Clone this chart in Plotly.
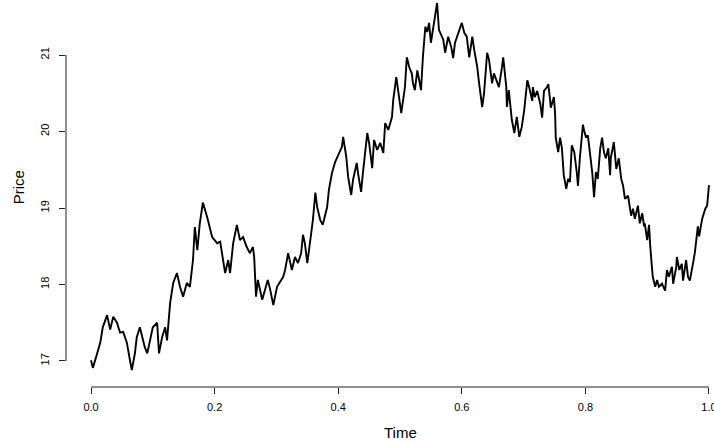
import plotly.graph_objects as go

time = [
    0.000, 0.003, 0.010, 0.015, 0.019, 0.026, 0.031, 0.036, 0.042, 0.047,
    0.052, 0.058, 0.063, 0.066, 0.071, 0.074, 0.079, 0.083, 0.087, 0.091,
    0.096, 0.100, 0.107, 0.110, 0.115, 0.120, 0.123, 0.125, 0.128, 0.133,
    0.139, 0.144, 0.149, 0.155, 0.160, 0.165, 0.168, 0.172, 0.176, 0.181,
    0.188, 0.196, 0.204, 0.209, 0.217, 0.222, 0.225,
    0.230, 0.236, 0.241, 0.246, 0.252, 0.257, 0.262, 0.264, 0.267, 0.270,
    0.277, 0.282, 0.286, 0.290, 0.295, 0.301, 0.306, 0.311, 0.314, 0.319,
    0.325, 0.330, 0.335, 0.340, 0.343, 0.346, 0.350, 0.354, 0.359, 0.363,
    0.366, 0.371, 0.375, 0.382, 0.385, 0.390, 0.395, 0.400, 0.406, 0.408,
    0.413, 0.416, 0.421, 0.424, 0.430, 0.432, 0.437, 0.440, 0.447, 0.450,
    0.455, 0.458, 0.463, 0.468,
    0.473, 0.476, 0.481, 0.487, 0.489, 0.494, 0.497, 0.502, 0.505, 0.508,
    0.511, 0.515, 0.519, 0.521, 0.524, 0.528, 0.531, 0.534, 0.537, 0.541,
    0.544, 0.547, 0.550, 0.553, 0.558, 0.560, 0.563, 0.570, 0.573, 0.578,
    0.583, 0.586, 0.589, 0.594, 0.600, 0.604, 0.608, 0.612, 0.617, 0.620,
    0.625, 0.628, 0.633, 0.636, 0.641, 0.644, 0.649, 0.652, 0.657, 0.660,
    0.665, 0.667, 0.672, 0.673, 0.676, 0.681, 0.685, 0.689, 0.693, 0.697,
    0.701, 0.706, 0.709,
    0.714, 0.715, 0.718, 0.722, 0.727, 0.730, 0.733, 0.738, 0.740, 0.743,
    0.744, 0.749, 0.751, 0.752, 0.756, 0.759, 0.762, 0.765, 0.769, 0.772,
    0.775, 0.778, 0.782, 0.786, 0.788, 0.791, 0.796, 0.798, 0.801, 0.804,
    0.807, 0.811, 0.814, 0.817, 0.820, 0.824, 0.827, 0.830, 0.833, 0.837,
    0.840, 0.841, 0.846, 0.850, 0.854, 0.858, 0.861, 0.864, 0.869, 0.871,
    0.874, 0.877, 0.880, 0.885, 0.888, 0.892, 0.895, 0.896, 0.900, 0.903,
    0.905, 0.909, 0.913, 0.916, 0.919, 0.924, 0.929, 0.932, 0.935, 0.940,
    0.942, 0.947, 0.948, 0.952, 0.956, 0.958, 0.963, 0.966, 0.969, 0.974,
    0.977, 0.982, 0.984, 0.989, 0.994, 0.997, 1.000,
]

price = [
    17.01, 16.91, 17.10, 17.24, 17.44, 17.60, 17.41, 17.58, 17.50, 17.37,
    17.38, 17.24, 17.01, 16.88, 17.10, 17.31, 17.44, 17.31, 17.18, 17.10,
    17.27, 17.44, 17.50, 17.10, 17.31, 17.44, 17.27, 17.50, 17.76, 18.02,
    18.15, 17.97, 17.84, 18.02, 17.97, 18.32, 18.75, 18.45, 18.80, 19.07,
    18.88, 18.62, 18.54, 18.56, 18.15, 18.32, 18.15,
    18.54, 18.78, 18.58, 18.62, 18.49, 18.41, 18.49, 18.36, 17.84, 18.06,
    17.80, 17.93, 18.06, 17.93, 17.73, 17.97, 18.03, 18.10, 18.19, 18.41,
    18.19, 18.36, 18.28, 18.41, 18.65, 18.54, 18.28, 18.54, 18.84, 19.20,
    19.01, 18.84, 18.78, 19.01, 19.24, 19.46, 19.60, 19.69, 19.80, 19.93,
    19.67, 19.41, 19.17, 19.37, 19.59, 19.46, 19.21, 19.46, 19.98, 19.85,
    19.52, 19.89, 19.76, 19.85,
    19.72, 20.11, 20.02, 20.19, 20.41, 20.71, 20.54, 20.24, 20.41, 20.58,
    20.97, 20.84, 20.76, 20.63, 20.54, 20.80, 20.67, 20.54, 20.97, 21.37,
    21.30, 21.42, 21.16, 21.33, 21.55, 21.68, 21.33, 21.20, 21.03, 21.24,
    21.10, 20.96, 21.16, 21.29, 21.42, 21.29, 21.24, 20.97, 21.24, 21.07,
    20.84, 20.63, 20.32, 20.50, 21.03, 20.94, 20.63, 20.76, 20.63, 20.58,
    20.84, 20.97, 20.58, 20.32, 20.54, 20.15, 19.98, 20.19, 19.93, 20.06,
    20.28, 20.67, 20.58,
    20.40, 20.58, 20.45, 20.53, 20.36, 20.18, 20.53, 20.58, 20.62, 20.40,
    20.31, 20.45, 20.23, 19.92, 19.73, 19.92, 19.78, 19.43, 19.25, 19.38,
    19.34, 19.82, 19.73, 19.47, 19.29, 19.65, 20.09, 20.01, 19.92, 19.95,
    19.73, 19.47, 19.14, 19.47, 19.38, 19.78, 19.92, 19.73, 19.65, 19.78,
    19.43, 19.65, 19.86, 19.51, 19.65, 19.38, 19.29, 19.12, 19.16, 19.03,
    18.90, 18.99, 18.86, 19.03, 18.80, 18.93, 18.76, 18.80, 18.58, 18.78,
    18.49, 18.10, 17.97, 18.06, 17.97, 18.01, 17.92, 18.19, 18.10, 18.23,
    18.01, 18.23, 18.36, 18.19, 18.27, 18.05, 18.32, 18.10, 18.05, 18.27,
    18.41, 18.76, 18.63, 18.86, 18.99, 19.03, 19.30,
]

x_ticks = [0.0, 0.2, 0.4, 0.6, 0.8, 1.0]
x_tick_labels = ["0.0", "0.2", "0.4", "0.6", "0.8", "1.0"]
y_ticks = [17, 18, 19, 20, 21]
y_tick_labels = ["17", "18", "19", "20", "21"]
x_title = "Time"
y_title = "Price"

FONT = "Liberation Sans, Arial, Helvetica, sans-serif"

fig = go.Figure(
    go.Scatter(
        x=time, y=price, mode="lines",
        line=dict(color="black", width=1.9),
        hoverinfo="skip",
    )
)

fig.update_layout(
    template="none",
    width=714, height=444,
    margin=dict(l=66, r=0, t=0, b=57, pad=0),
    paper_bgcolor="white", plot_bgcolor="white",
    showlegend=False,
    hovermode=False,
    font=dict(family=FONT, color="black", size=11),
)

fig.update_xaxes(
    range=[-0.0405, 1.0081],
    tickvals=x_ticks, ticktext=x_tick_labels,
    ticks="outside", ticklen=6, tickwidth=1, tickcolor="#222",
    showgrid=False, zeroline=False, showline=False, automargin=False,
    tickfont=dict(size=11, family=FONT, color="black"),
    ticklabelstandoff=4,
    ticklabeloverflow="allow",
)
fig.update_yaxes(
    range=[16.66, 21.719],
    tickvals=y_ticks, ticktext=y_tick_labels, tickangle=-90,
    ticks="outside", ticklen=6, tickwidth=1, tickcolor="#222",
    showgrid=False, zeroline=False, showline=False, automargin=False,
    tickfont=dict(size=11, family=FONT, color="black"),
    ticklabelstandoff=6,
    ticklabeloverflow="allow",
)

# R-style axis lines spanning only first to last tick
fig.add_shape(type="line", xref="x", yref="paper",
              x0=x_ticks[0], x1=x_ticks[-1], y0=0, y1=0,
              line=dict(color="#222", width=1))
fig.add_shape(type="line", xref="paper", yref="y",
              x0=0, x1=0, y0=y_ticks[0], y1=y_ticks[-1],
              line=dict(color="#222", width=1))

# Axis titles (placed like R's mtext lines)
fig.add_annotation(text=x_title, xref="x", yref="paper", x=0.5, y=-45/387,
                   showarrow=False, xanchor="center", yanchor="middle",
                   font=dict(size=15, family=FONT, color="black"))
fig.add_annotation(text=y_title, xref="paper", yref="y", x=-48/648, y=19.27,
                   showarrow=False, xanchor="center", yanchor="middle",
                   textangle=-90,
                   font=dict(size=15, family=FONT, color="black"))

fig.write_html(
    "out.html",
    config={"displayModeBar": False, "staticPlot": True},
    post_script="document.body.style.margin='0';document.body.style.overflow='hidden';",
)
